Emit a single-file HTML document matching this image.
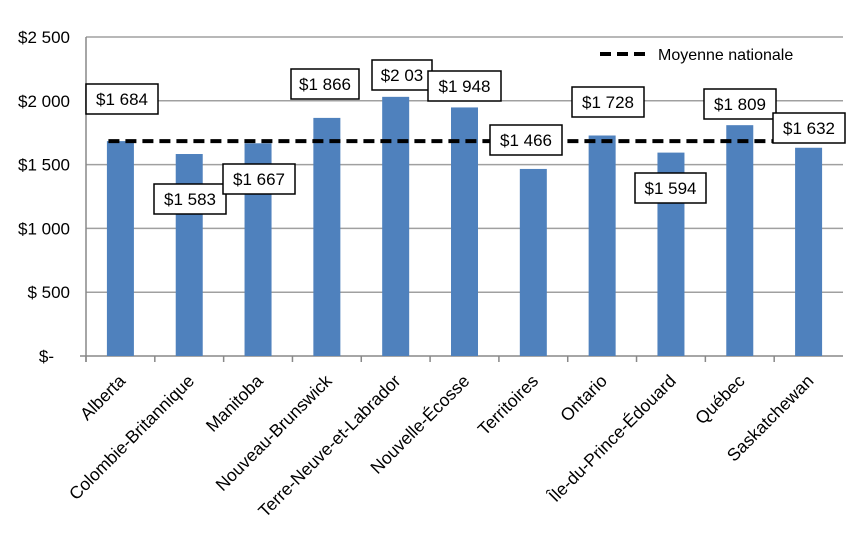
<!DOCTYPE html>
<html><head><meta charset="utf-8"><style>
html,body{margin:0;padding:0;background:#fff;}
svg{display:block;font-family:"Liberation Sans",sans-serif;}
</style></head><body>
<svg id="chart" width="852" height="539" viewBox="0 0 852 539" xmlns="http://www.w3.org/2000/svg"></svg>
<script>
const categories = ["Alberta","Colombie-Britannique","Manitoba","Nouveau-Brunswick","Terre-Neuve-et-Labrador","Nouvelle-Écosse","Territoires","Ontario","Île-du-Prince-Édouard","Québec","Saskatchewan"];
const values = [1684,1583,1667,1866,2031,1948,1466,1728,1594,1809,1632];
const valueLabels = ["$1 684","$1 583","$1 667","$1 866","$2 03","$1 948","$1 466","$1 728","$1 594","$1 809","$1 632"];
const nationalAverage = 1684;
const yTicks = [0,500,1000,1500,2000,2500];
const yTickLabels = ["$-","$ 500","$1 000","$1 500","$2 000","$2 500"];
// label box placement (box left x, box top y)
const labelBoxX = [86,154,223,291,372,428,490,572,635,704,773];
const labelBoxY = [84,184,164,69,60,71,125,87,173,89,113];
const labelBoxW = [72,72,72,68,60,73,72,72,71,72,72];

const NS="http://www.w3.org/2000/svg";
const svg=document.getElementById('chart');
const X0=86,X1=843,Y0=356,Y1=37,VMAX=2500;
const step=(X1-X0)/categories.length;
const y=v=>Y0-(v/VMAX)*(Y0-Y1);
const xc=i=>X0+step*(i+0.5);
function mk(t,a){const e=document.createElementNS(NS,t);for(const k in a)e.setAttribute(k,a[k]);svg.appendChild(e);return e;}

yTicks.forEach((t,i)=>{
  if(t>0){const g=mk('line',{x1:X0,x2:X1,y1:y(t),y2:y(t),stroke:'#a0a0a0','stroke-width':1.5});
  
  }
  const l=mk('text',{x:i==0?54:70,y:y(t)+6,'text-anchor':'end','font-size':17,fill:'#000'});
  l.textContent=yTickLabels[i];
  
  
});
const ax=mk('line',{x1:X0,x2:X0,y1:Y1,y2:Y0+6,stroke:'#888','stroke-width':1.5});


const bx=mk('line',{x1:X0-6,x2:X1,y1:Y0,y2:Y0,stroke:'#888','stroke-width':1.5});



categories.forEach((c,i)=>{
  const tk=mk('line',{x1:X0+step*i,x2:X0+step*i,y1:Y0,y2:Y0+6,stroke:'#888','stroke-width':1.5});
  
  
  const b=mk('rect',{x:xc(i)-13.5,y:y(values[i]),width:27,height:Y0-y(values[i]),fill:'#4f81bd'});
  
  
  const tx=xc(i)+6,ty=Y0+26;
  const t=mk('text',{x:tx,y:ty,'text-anchor':'end','font-size':17.5,transform:`rotate(-45 ${tx} ${ty})`});
  t.textContent=c;
  
  
});

const avg=mk('line',{x1:xc(0)-12,x2:xc(10)-28,y1:y(nationalAverage),y2:y(nationalAverage),stroke:'#000','stroke-width':4,'stroke-dasharray':'11 6'});



values.forEach((v,i)=>{
  const r=mk('rect',{x:labelBoxX[i],y:labelBoxY[i],width:labelBoxW[i],height:30,fill:'#fff',stroke:'#000','stroke-width':1.5});
  
  
  const t=mk('text',{x:labelBoxX[i]+labelBoxW[i]/2,y:labelBoxY[i]+21,'text-anchor':'middle','font-size':17});
  t.textContent=valueLabels[i];
  
  
});

const ll=mk('line',{x1:600,x2:651,y1:54,y2:54,stroke:'#000','stroke-width':4,'stroke-dasharray':'11 6'});


const lt=mk('text',{x:658,y:60,'font-size':16});
lt.textContent='Moyenne nationale';


</script>
</body></html>
